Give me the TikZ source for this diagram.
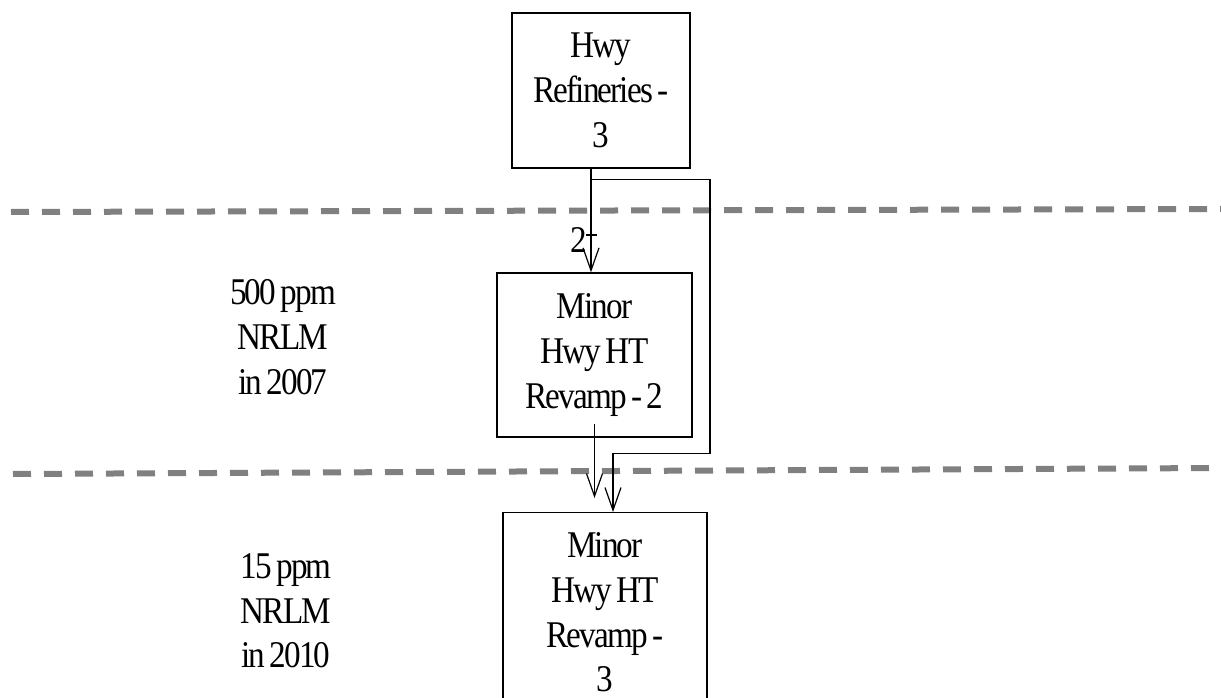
\documentclass[tikz,border=0pt]{standalone}
\usepackage{fontspec}
\setmainfont{Liberation Serif}[FakeStretch=0.88, LetterSpace=-5, WordSpace=0.7]
\usetikzlibrary{arrows.meta}

\begin{document}
\begin{tikzpicture}[x=0.75pt, y=-0.75pt, every node/.style={font=\fontsize{28.3}{33.5}\selectfont, align=center, inner sep=0pt}, unit/.style={draw, line width=1pt}, arr/.style={line width=0.9pt, -{Straight Barb[length=17pt, width=12pt]}}, sep/.style={gray, line width=4.5pt, dash pattern=on 13.5pt off 9.75pt}]
	\useasboundingbox (0,0) rectangle (1221,698);
	\draw[sep] (11,212) -- (1221,209); \draw[sep] (13,474) -- (1221,468);
	\node[unit, minimum width=133.5pt, minimum height=116.25pt] (hwy) at (601,90.5) {Hwy\\Refineries -\\3};
	\node[unit, minimum width=146.25pt, minimum height=123pt] (minor2) at (594.5,355) {Minor\\Hwy HT\\Revamp - 2};
	\node[unit, anchor=north, minimum width=153pt, minimum height=150pt] (minor3) at (605,512) {Minor\\Hwy HT\\Revamp -\\3};
	\node (ppm500) at (283,337) {500 ppm\\NRLM\\in 2007};
	\node (ppm15) at (286,611) {15 ppm\\NRLM\\in 2010};
	\draw[arr] ([xshift=-7.5pt]hwy.south) -- ([xshift=-7.5pt]hwy.south |- minor2.north);
	\node[anchor=base east] (two) at (587,253) {2};
	\draw[line width=0.9pt] (586,235) -- (597,235);
	\draw[arr] ([xshift=-7.5pt, yshift=-8.25pt]hwy.south) -- ++(119,0) -- ++(0,274) -- ++(-97,0) coordinate (j) -- (j |- minor3.north);
	\draw[arr] ([yshift=10.5pt]minor2.south) -- ([yshift=10.5pt]minor2.south |- minor3.north);
\end{tikzpicture}
\end{document}
